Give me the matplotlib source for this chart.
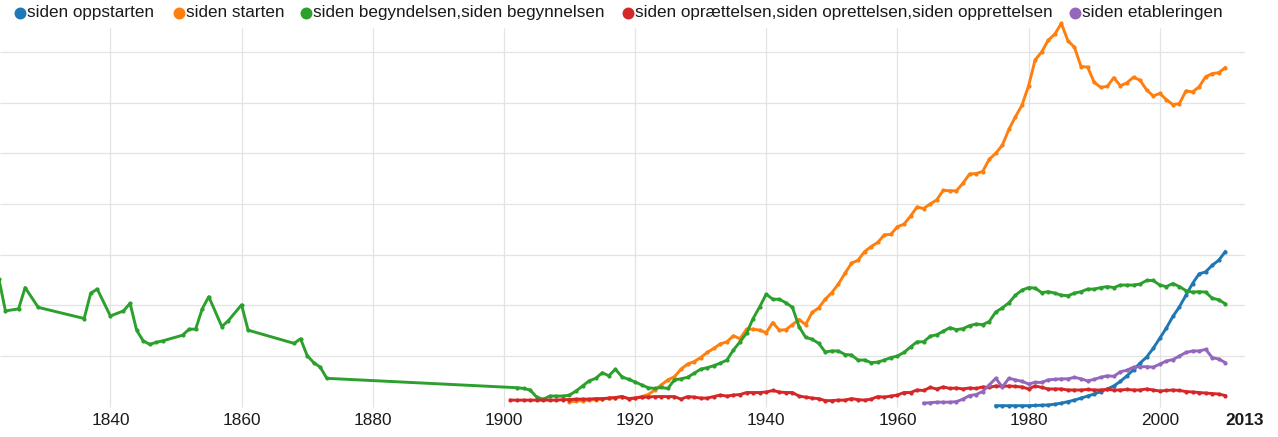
"""Ngram-style line chart: Norwegian/Danish "siden ..." phrases, 1823-2010."""

import matplotlib

matplotlib.use("Agg")
import matplotlib.pyplot as plt
import numpy as np
from matplotlib.lines import Line2D

# colours (tab10, as on the reference)
COLORS = {
    "blue": "#1f77b4",
    "orange": "#ff7f0e",
    "green": "#2ca02c",
    "red": "#d62728",
    "purple": "#9467bd",
    "grid": "#e3e3e3",
    "text": "#1a1a1a",
}

LABELS = [
    "siden oppstarten",
    "siden starten",
    "siden begyndelsen,siden begynnelsen",
    "siden oprættelsen,siden oprettelsen,siden opprettelsen",
    "siden etableringen",
]

# ---- data (units = one grid step) ----
green_early_years = [1823, 1824, 1826, 1827, 1829, 1836, 1837, 1838, 1840, 1842,
                     1843, 1844, 1845, 1846, 1847, 1848, 1851, 1852, 1853, 1854,
                     1855, 1857, 1858, 1860, 1861, 1868, 1869, 1870, 1871, 1872, 1873]
green_early = [2.52, 1.89, 1.93, 2.35, 1.96, 1.74, 2.24, 2.32, 1.79, 1.89,
               2.04, 1.51, 1.30, 1.23, 1.27, 1.30, 1.41, 1.53, 1.53, 1.93,
               2.17, 1.58, 1.70, 2.01, 1.51, 1.25, 1.34, 1.01, 0.87, 0.78, 0.56]

green_late = [
    0.375, 0.36, 0.33, 0.19, 0.146, 0.21, 0.21, 0.21,            # 1902-1909
    0.23, 0.31, 0.41, 0.51, 0.56, 0.67, 0.61, 0.74, 0.59, 0.54,  # 1910s
    0.49, 0.43, 0.375, 0.36, 0.38, 0.36, 0.53, 0.55, 0.58, 0.66,  # 1920s
    0.74, 0.77, 0.81, 0.86, 0.92, 1.12, 1.28, 1.45, 1.74, 1.97,  # 1930s
    2.22, 2.12, 2.12, 2.05, 1.96, 1.58, 1.37, 1.33, 1.25, 1.08,  # 1940s
    1.10, 1.10, 1.03, 1.02, 0.92, 0.92, 0.87, 0.88, 0.92, 0.97,  # 1950s
    1.00, 1.07, 1.18, 1.28, 1.28, 1.39, 1.42, 1.49, 1.56, 1.52,  # 1960s
    1.54, 1.60, 1.63, 1.62, 1.68, 1.87, 1.95, 2.05, 2.20, 2.30,  # 1970s
    2.35, 2.34, 2.25, 2.27, 2.24, 2.20, 2.19, 2.24, 2.27, 2.32,  # 1980s
    2.32, 2.35, 2.37, 2.35, 2.40, 2.40, 2.40, 2.42, 2.49, 2.49,  # 1990s
    2.40, 2.37, 2.43, 2.37, 2.29, 2.26, 2.27, 2.26, 2.14, 2.11, 2.03,  # 2000-2010
]

orange = [
    0.10, 0.11, 0.12, 0.13, 0.14, 0.15, 0.17, 0.18, 0.20, 0.16,  # 1910s
    0.17, 0.20, 0.24, 0.33, 0.43, 0.53, 0.59, 0.74, 0.84, 0.89,  # 1920s
    0.97, 1.07, 1.15, 1.24, 1.28, 1.40, 1.34, 1.53, 1.53, 1.51,  # 1930s
    1.46, 1.66, 1.51, 1.52, 1.62, 1.72, 1.62, 1.86, 1.95, 2.12,  # 1940s
    2.25, 2.42, 2.63, 2.83, 2.89, 3.06, 3.16, 3.24, 3.39, 3.40,  # 1950s
    3.55, 3.60, 3.76, 3.94, 3.91, 4.00, 4.08, 4.27, 4.26, 4.26,  # 1960s
    4.41, 4.59, 4.60, 4.64, 4.88, 5.00, 5.16, 5.47, 5.72, 5.95,  # 1970s
    6.33, 6.84, 7.00, 7.23, 7.35, 7.56, 7.22, 7.09, 6.71, 6.70,  # 1980s
    6.40, 6.30, 6.32, 6.49, 6.33, 6.39, 6.50, 6.44, 6.25, 6.13,  # 1990s
    6.18, 6.06, 5.96, 5.98, 6.23, 6.21, 6.31, 6.51, 6.57, 6.59, 6.69,  # 2000-2010
]

red = [
    0.13, 0.13, 0.13, 0.13, 0.13, 0.13, 0.13, 0.13, 0.14,        # 1901-1909
    0.14, 0.15, 0.15, 0.15, 0.16, 0.16, 0.17, 0.18, 0.20, 0.16,  # 1910s
    0.17, 0.19, 0.19, 0.20, 0.20, 0.20, 0.20, 0.15, 0.20, 0.19,  # 1920s
    0.17, 0.17, 0.20, 0.23, 0.21, 0.23, 0.24, 0.28, 0.28, 0.28,  # 1930s
    0.29, 0.32, 0.29, 0.28, 0.28, 0.21, 0.19, 0.17, 0.16, 0.12,  # 1940s
    0.12, 0.13, 0.13, 0.16, 0.14, 0.13, 0.15, 0.20, 0.19, 0.21,  # 1950s
    0.23, 0.28, 0.28, 0.33, 0.32, 0.38, 0.35, 0.39, 0.36, 0.37,  # 1960s
    0.35, 0.37, 0.36, 0.39, 0.38, 0.41, 0.40, 0.41, 0.40, 0.39,  # 1970s
    0.35, 0.41, 0.38, 0.35, 0.35, 0.35, 0.33, 0.33, 0.33, 0.34,  # 1980s
    0.33, 0.33, 0.34, 0.33, 0.33, 0.34, 0.33, 0.33, 0.35, 0.33,  # 1990s
    0.31, 0.32, 0.33, 0.32, 0.30, 0.29, 0.28, 0.27, 0.26, 0.25, 0.22,  # 2000-2010
]

purple = [
    0.07, 0.08, 0.09, 0.09, 0.09, 0.10,                          # 1964-1969
    0.15, 0.22, 0.24, 0.30, 0.43, 0.56, 0.39, 0.56, 0.53, 0.50,  # 1970s
    0.45, 0.48, 0.48, 0.53, 0.54, 0.55, 0.55, 0.58, 0.55, 0.51,  # 1980s
    0.54, 0.58, 0.61, 0.60, 0.69, 0.72, 0.78, 0.79, 0.79, 0.78,  # 1990s
    0.84, 0.90, 0.93, 1.00, 1.07, 1.10, 1.10, 1.13, 0.97, 0.94, 0.87,  # 2000-2010
]

blue = [
    0.02, 0.02, 0.02, 0.02, 0.02,                                 # 1975-1979
    0.02, 0.025, 0.03, 0.035, 0.05, 0.07, 0.10, 0.13, 0.17, 0.21,  # 1980s
    0.25, 0.30, 0.35, 0.41, 0.50, 0.61, 0.73, 0.86, 0.98, 1.15,  # 1990s
    1.35, 1.55, 1.78, 1.97, 2.20, 2.43, 2.62, 2.66, 2.79, 2.89, 3.06,  # 2000-2010
]

x_ticks = [1840, 1860, 1880, 1900, 1920, 1940, 1960, 1980, 2000]
y_grid = [1, 2, 3, 4, 5, 6, 7]

green_years = green_early_years + list(range(1902, 2011))
green = green_early + green_late
orange_years = list(range(1910, 2011))
red_years = list(range(1901, 2011))
purple_years = list(range(1964, 2011))
blue_years = list(range(1975, 2011))

# legend text left edges, in pixels of the 1278 px wide figure
_LEGEND_TEXT_X = [27, 186, 313, 635, 1082]
_LEGEND_Y = 1 - 12.5 / 437
_W = 1278

plt.rcParams.update({
    "font.family": ["Liberation Sans", "DejaVu Sans"],
    "axes.spines.top": False,
    "axes.spines.right": False,
    "axes.spines.left": False,
    "axes.spines.bottom": False,
})

fig = plt.figure(figsize=(12.78, 4.37), dpi=100)
# axes spans x pixels 0..1245 (1823.17..2013), y val -0.1..7.9
ax = fig.add_axes([0.0, 0.0577, 1245 / _W, 0.928])
ax.set_xlim(1823.17, 2013)
ax.set_ylim(-0.1, 7.9)

ax.hlines(y_grid, 1823.17, 2013, colors=COLORS["grid"], linewidth=0.9, zorder=0)
ax.vlines(x_ticks, 0, 7.47, colors=COLORS["grid"], linewidth=0.9, zorder=0)

series = [
    (blue_years, blue, COLORS["blue"]),
    (orange_years, orange, COLORS["orange"]),
    (green_years, green, COLORS["green"]),
    (red_years, red, COLORS["red"]),
    (purple_years, purple, COLORS["purple"]),
]
for yrs, vals, col in series:
    ax.plot(np.asarray(yrs), np.asarray(vals), color=col, linewidth=2.1,
            marker="o", markersize=3.0, markeredgewidth=0, solid_joinstyle="round",
            clip_on=False, zorder=3)

ax.set_yticks([])
ax.set_xticks(x_ticks + [2013])
ax.set_xticklabels([str(t) for t in x_ticks] + ["2013"])
ax.tick_params(axis="x", length=0, pad=0.6, labelsize=12.4, labelcolor=COLORS["text"])
ax.get_xticklabels()[-1].set_fontweight("bold")

# legend row: coloured dot + label, laid out like the Ngram viewer header
for tx, label, (_, _, col) in zip(_LEGEND_TEXT_X, LABELS, series):
    fig.add_artist(Line2D([(tx - 7.5) / _W], [_LEGEND_Y], transform=fig.transFigure,
                          linestyle="", marker="o", markersize=8.6,
                          markeredgewidth=0, color=col))
    fig.text(tx / _W, _LEGEND_Y, label, ha="left", va="center", fontsize=12.3,
             color=COLORS["text"])

fig.savefig("out.png", dpi=100)
